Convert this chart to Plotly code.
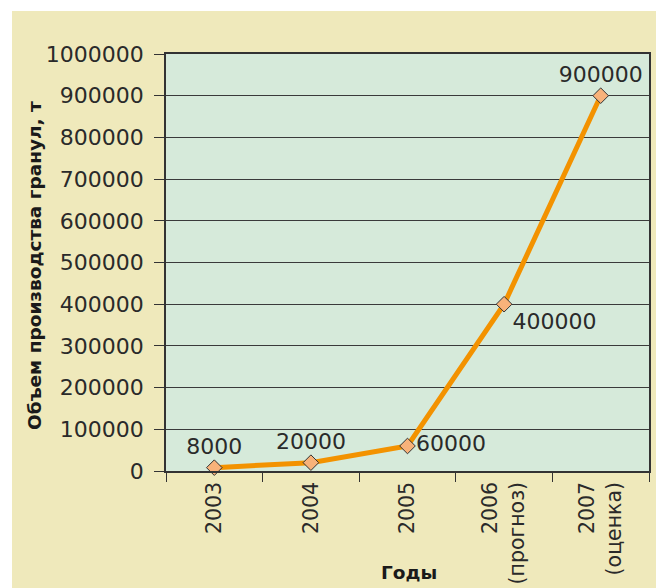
import plotly.graph_objects as go

categories = ["2003", "2004", "2005", "2006<br>(прогноз)", "2007<br>(оценка)"]
values = [8000, 20000, 60000, 400000, 900000]
labels = ["8000", "20000", "60000", "400000", "900000"]
label_positions = ["top center", "top center", "middle right", "bottom right", "top center"]
y_tickvals = [0, 100000, 200000, 300000, 400000, 500000, 600000, 700000, 800000, 900000, 1000000]
y_ticktext = [str(v) for v in y_tickvals]

PAPER = "#efe9bb"
PLOT = "#d6eada"
DARK = "#333333"
TXT = "#2a2a2a"
TICKFONT = dict(family="DejaVu Sans", size=22, color=TXT)
XTICKFONT = dict(family="DejaVu Sans", size=20.5, color=TXT)
TITLEFONT = dict(family="DejaVu Sans", size=18.5, color="#1a1a1a")

L, R, T, B = 166, 7, 54, 117
W, H = 656, 588
pw, ph = W - L - R, H - T - B

fig = go.Figure()
fig.add_trace(go.Scatter(
    x=categories, y=values, mode="lines+markers+text",
    text=labels, textposition=label_positions,
    textfont=TICKFONT,
    line=dict(color="#f39200", width=5),
    marker=dict(symbol="diamond", size=12, color="#f8b27a",
                line=dict(color=DARK, width=1)),
    cliponaxis=False, showlegend=False,
))

fig.update_layout(
    width=W, height=H,
    margin=dict(l=L, r=R, t=T, b=B, autoexpand=False),
    paper_bgcolor="white",
    plot_bgcolor="rgba(0,0,0,0)",
    shapes=[
        dict(type="rect", xref="paper", yref="paper", layer="below",
             x0=(12 - L) / pw, x1=(W - L) / pw,
             y0=-B / ph, y1=(H - B - 11) / ph,
             fillcolor=PAPER, line=dict(width=0)),
        dict(type="rect", xref="paper", yref="paper", layer="below",
             x0=0, x1=1, y0=0, y1=1, fillcolor=PLOT, line=dict(width=0)),
    ],
    xaxis=dict(
        type="category", range=[-0.5, 4.5], automargin=False,
        tickson="boundaries", ticks="outside", ticklen=9, tickcolor=DARK, tickwidth=1,
        tickangle=-90, tickfont=XTICKFONT, ticklabelstandoff=1,
        showline=True, linecolor=DARK, linewidth=1.5, mirror=True,
        showgrid=False, zeroline=False,
    ),
    yaxis=dict(
        range=[0, 1000000], tickvals=y_tickvals, ticktext=y_ticktext, automargin=False,
        ticks="outside", ticklen=10, tickcolor=DARK, tickwidth=1,
        tickfont=TICKFONT, ticklabelstandoff=6,
        showline=True, linecolor=DARK, linewidth=1.5, mirror=True,
        showgrid=True, gridcolor="#3a3a3a", gridwidth=1, zeroline=False,
    ),
    annotations=[
        dict(text="<b>Объем производства гранул, т</b>", xref="paper", yref="paper",
             x=(34 - L) / pw, y=(H - B - 266) / ph, textangle=-90, showarrow=False,
             xanchor="center", yanchor="middle", font=TITLEFONT),
        dict(text="<b>Годы</b>", xref="paper", yref="paper",
             x=(409 - L) / pw, y=-(572 - (H - B)) / ph, showarrow=False,
             xanchor="center", yanchor="middle", font=TITLEFONT),
    ],
)

fig.write_html("out.html")
